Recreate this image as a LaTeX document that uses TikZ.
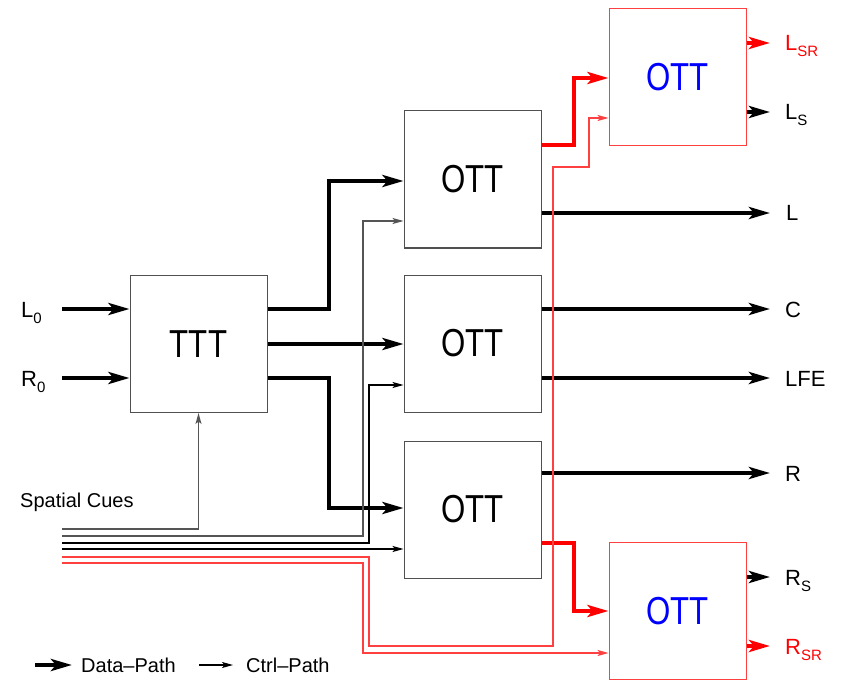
\documentclass[tikz,border=0pt]{standalone}
\usepackage{fontspec}
\setmainfont{Liberation Sans}
\newfontfamily\boxfont[FakeStretch=0.8]{Liberation Sans}
\usetikzlibrary{arrows.meta}
\definecolor{boxgray}{HTML}{505050}
\definecolor{ctrlgray}{HTML}{555555}
\definecolor{lightred}{HTML}{FF4040}
\definecolor{ottblue}{HTML}{0000FF}
\newcommand{\mysub}[1]{\raisebox{-6pt}{\fontsize{15}{15}\selectfont #1}}
\tikzset{
  blk/.style={draw=boxgray, line width=1pt, minimum width=137pt, minimum height=137pt,
    inner sep=0pt, font=\boxfont\fontsize{39}{39}\selectfont},
  redblk/.style={blk, draw=lightred, text=ottblue},
  lbl/.style={inner sep=0pt, font=\fontsize{22}{22}\selectfont},
  datap/.style={line width=4pt, line join=miter, -{Stealth[length=21pt,width=12pt,inset=5pt]}},
  ctrlp/.style={line width=1.1pt, line join=miter, -{Stealth[length=11pt,width=6pt,inset=2.5pt]}},
}
\begin{document}
\begin{tikzpicture}[x=1pt,y=-1pt]
\useasboundingbox[fill=white] (0,0) rectangle (846,687);

% blocks
\node[blk] (ttt) at (198.5,344) {TTT};
\node[blk] (ott1) at (472.5,179.5) {OTT};
\node[blk] (ott2) at (472.5,343.5) {OTT};
\node[blk] (ott3) at (472.5,509.5) {OTT};
\node[redblk] (otta) at (677.5,77.5) {OTT};
\node[redblk] (ottb) at (677.5,611) {OTT};

% labels
\node[lbl, anchor=base west] (l0) at (21,317) {L\mysub{0}};
\node[lbl, anchor=base west] (r0) at (21,386) {R\mysub{0}};
\node[lbl, anchor=base west, text=red] (lsr) at (785,51) {L\mysub{SR}};
\node[lbl, anchor=base west] (ls) at (785,120) {L\mysub{S}};
\node[lbl, anchor=base west] (lL) at (786,221) {L};
\node[lbl, anchor=base west] (lC) at (785,317) {C};
\node[lbl, anchor=base west] (lLFE) at (785,386) {LFE};
\node[lbl, anchor=base west] (lR) at (785,481) {R};
\node[lbl, anchor=base west] (rs) at (785,585) {R\mysub{S}};
\node[lbl, anchor=base west, text=red] (rsr) at (785,654) {R\mysub{SR}};
\node[lbl, anchor=base west, font=\fontsize{20}{20}\selectfont] (sc) at (20,507) {Spatial Cues};

% input coordinates
\coordinate (inL) at (62,309);
\coordinate (inR) at (62,378);
\coordinate (c1) at (62,529);
\coordinate (c2) at (62,536);
\coordinate (c3) at (62,543);
\coordinate (c4) at (62,549);
\coordinate (c5) at (62,557);
\coordinate (c6) at (62,563);

% data inputs
\draw[datap] (inL) -- (ttt.west |- inL);
\draw[datap] (inR) -- (ttt.west |- inR);

% TTT -> OTTs
\draw[datap] (ttt.east |- 0,309) -| (329,181) -- (ott1.west |- 0,181);
\draw[datap] (ttt.east |- 0,344) -- (ott2.west |- 0,344);
\draw[datap] (ttt.east |- 0,378) -| (329,508) -- (ott3.west |- 0,508);

% OTT outputs
\draw[datap] (ott1.east |- 0,213) -- (770,213);
\draw[datap] (ott2.east |- 0,309) -- (770,309);
\draw[datap] (ott2.east |- 0,378) -- (770,378);
\draw[datap] (ott3.east |- 0,473) -- (770,473);
\draw[datap, red] (ott1.east |- 0,145) -| (574,78) -- (otta.west |- 0,78);
\draw[datap, red] (ott3.east |- 0,543) -| (574,611) -- (ottb.west |- 0,611);
\draw[datap, red] (otta.east |- 0,43) -- (770,43);
\draw[datap] (otta.east |- 0,112) -- (770,112);
\draw[datap] (ottb.east |- 0,577) -- (770,577);
\draw[datap, red] (ottb.east |- 0,646) -- (770,646);

% control paths
\draw[ctrlp, ctrlgray] (c1) -| (ttt.south);
\draw[ctrlp, ctrlgray] (c2) -| (363,221) -- (ott1.west |- 0,221);
\draw[ctrlp] (c3) -| (369,385) -- (ott2.west |- 0,385);
\draw[ctrlp] (c4) -- (ott3.west |- c4);
\draw[ctrlp, lightred] (c5) -| (369,646) -| (553,167) -| (589,118) -- (otta.west |- 0,118);
\draw[ctrlp, lightred] (c6) -| (363,653) -- (ottb.west |- 0,653);

% legend
\coordinate (lg1) at (35,665);
\coordinate (lg2) at (199,665);
\node[lbl, anchor=west, font=\fontsize{20}{20}\selectfont] (dp) at (81,665) {Data–Path};
\node[lbl, anchor=west, font=\fontsize{20}{20}\selectfont] (cp) at (246,665) {Ctrl–Path};
\draw[datap] (lg1) -- (72,665);
\draw[ctrlp] (lg2) -- (233,665);
\end{tikzpicture}
\end{document}
